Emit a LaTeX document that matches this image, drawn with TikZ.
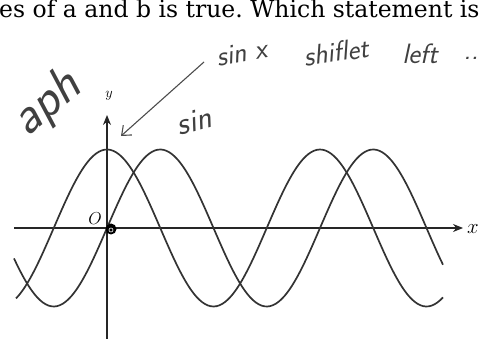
\documentclass[tikz,border=0pt]{standalone}
\usepackage{fontspec}
\setmainfont{Liberation Serif}
\newfontfamily\qfont{DejaVu Serif}
\frenchspacing
\usetikzlibrary{arrows.meta}
\tikzset{
  axis/.style  = {line width=1.2pt, black!85, -{Stealth[length=10pt, width=8pt]}},
  wave/.style  = {line width=1.7pt, black!80, smooth, samples=150},
  hand/.style  = {font=\sffamily\itshape\fontsize{28}{30}\selectfont, black!75, inner sep=0pt},
  pen/.style   = {line width=1.1pt, black!70, -{Straight Barb[length=8pt, width=13pt]}},
  lbl/.style   = {inner sep=0pt},
}
\begin{document}
\begin{tikzpicture}[x=1pt, y=-1pt]
  \useasboundingbox (0,0) rectangle (482,339);
  \clip (0,0) rectangle (482,339);
  % printed line of the question
  \node[lbl, anchor=base west, font=\qfont\fontsize{23.5}{25}\selectfont] (qline) at (-1,18)
    {es of a and b is true. Which statement is};
  % axes
  \coordinate (xl) at (14,228);  \coordinate (xr) at (463,228);
  \coordinate (yb) at (107,345); \coordinate (yt) at (107,115);
  \draw[axis] (xl) -- (xr);
  \draw[axis] (yb) -- (yt);
  \node[lbl, font=\fontsize{20}{22}\selectfont] (xlab) at (473,229) {$x$};
  \node[lbl, font=\fontsize{14}{16}\selectfont] (ylab) at (109,96) {$y$};
  \node[lbl, font=\fontsize{16}{18}\selectfont] (olab) at (95,219) {$O$};
  % the two waves
  \draw[wave, domain=16:443] plot (\x, {228 - 78.5*cos((\x-107)/213*360)});
  \draw[wave, domain=14:443] plot (\x, {228 - 78.5*sin((\x-107)/213*360)});
  % pencil marks
  \fill (111,229) circle (5.5);
  \draw[white, line width=0.6pt] (111,230) circle (2);
  \coordinate (ps) at (204,62); \coordinate (pt) at (121,136);
  \draw[pen] (ps) -- (pt);
  \node[hand, rotate=10] (nsin) at (242,53) {sin x};
  \node[hand, rotate=8] (nshift) at (336,52) {shiflet};
  \node[hand] (nleft) at (420,54) {left};
  \node[hand] (ndots) at (471,58) {..};
  \node[hand, rotate=14, font=\sffamily\itshape\fontsize{32}{34}\selectfont] (sinnote) at (194,121) {sin};
  \node[hand, rotate=40, font=\sffamily\itshape\fontsize{52}{54}\selectfont] (graphnote) at (47,104) {aph};
\end{tikzpicture}
\end{document}
